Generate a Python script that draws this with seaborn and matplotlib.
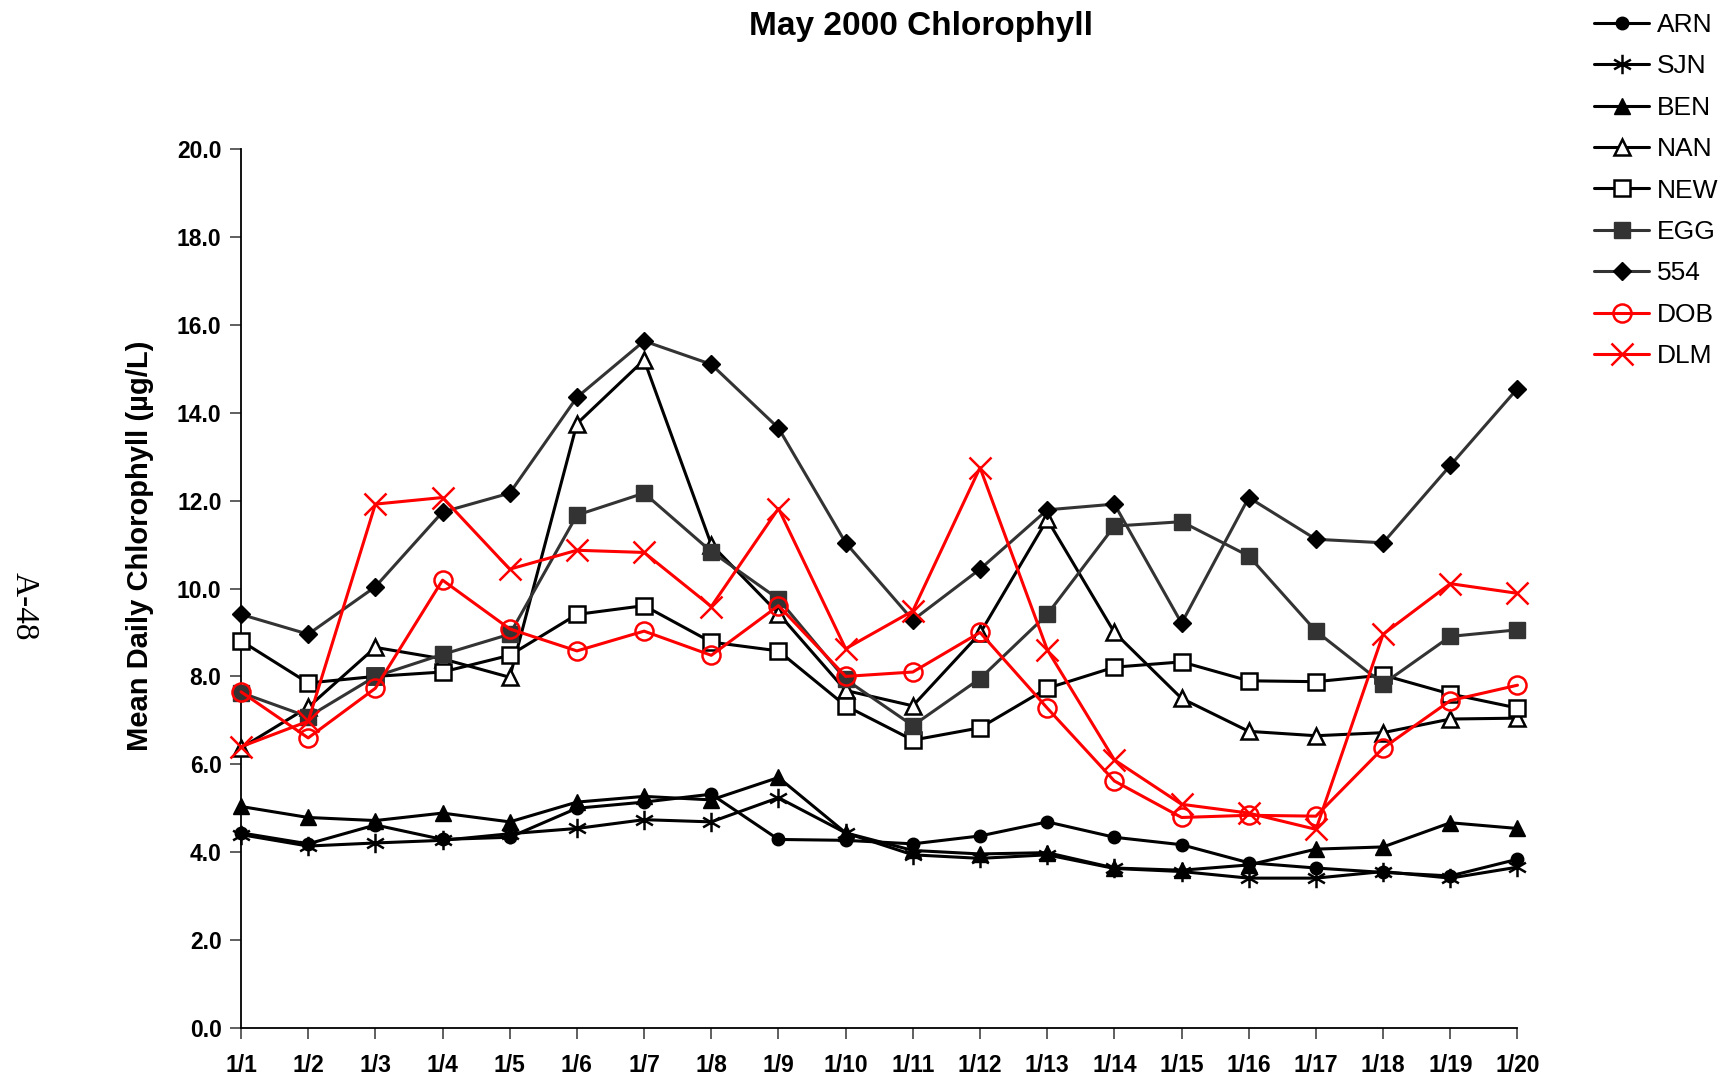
import numpy as np
import matplotlib
matplotlib.use("Agg")
import matplotlib.pyplot as plt
from matplotlib.path import Path
import seaborn as sns

# Daily dates (May 2000 chlorophyll record)
days = ["1/1", "1/2", "1/3", "1/4", "1/5", "1/6", "1/7", "1/8", "1/9", "1/10",
        "1/11", "1/12", "1/13", "1/14", "1/15", "1/16", "1/17", "1/18", "1/19", "1/20"]

# Mean daily chlorophyll per station (ug/L)
arn = [4.44, 4.19, 4.62, 4.29, 4.34, 5.00, 5.14, 5.32, 4.29, 4.27,
       4.19, 4.37, 4.69, 4.34, 4.17, 3.76, 3.64, 3.54, 3.46, 3.84]
sjn = [4.40, 4.14, 4.21, 4.27, 4.42, 4.54, 4.74, 4.69, 5.24, 4.44,
       3.94, 3.86, 3.94, 3.63, 3.56, 3.41, 3.41, 3.56, 3.41, 3.66]
ben = [5.04, 4.79, 4.72, 4.89, 4.69, 5.14, 5.27, 5.19, 5.70, 4.44,
       4.04, 3.96, 3.99, 3.64, 3.59, 3.71, 4.07, 4.12, 4.67, 4.54]
nan_ = [6.37, 7.30, 8.66, 8.40, 7.98, 13.75, 15.20, 11.00, 9.43, 7.68,
        7.33, 8.98, 11.57, 9.00, 7.50, 6.75, 6.65, 6.72, 7.03, 7.05]
new = [8.81, 7.85, 8.00, 8.10, 8.48, 9.41, 9.61, 8.78, 8.58, 7.33,
       6.55, 6.83, 7.73, 8.21, 8.33, 7.90, 7.88, 8.03, 7.60, 7.28]
egg = [7.63, 7.08, 8.00, 8.50, 8.96, 11.67, 12.17, 10.84, 9.76, 7.93,
       6.88, 7.95, 9.41, 11.42, 11.52, 10.74, 9.03, 7.83, 8.91, 9.06]
s554 = [9.41, 8.96, 10.04, 11.74, 12.17, 14.35, 15.63, 15.10, 13.65, 11.04,
        9.28, 10.44, 11.79, 11.92, 9.21, 12.07, 11.12, 11.04, 12.80, 14.55]
dob = [7.65, 6.60, 7.73, 10.19, 9.08, 8.58, 9.03, 8.48, 9.61, 8.00,
       8.10, 9.00, 7.28, 5.62, 4.79, 4.84, 4.82, 6.37, 7.45, 7.80]
dlm = [6.40, 6.98, 11.92, 12.07, 10.44, 10.87, 10.82, 9.59, 11.82, 8.63,
       9.49, 12.75, 8.61, 6.10, 5.09, 4.89, 4.52, 8.96, 10.11, 9.89]

y_ticks = [0, 2, 4, 6, 8, 10, 12, 14, 16, 18, 20]

# Six-armed asterisk marker (vertical stroke plus two diagonals)
c, s = np.cos(np.pi / 6), np.sin(np.pi / 6)
asterisk = Path(
    [(0, -1), (0, 1), (-c, -s), (c, s), (-c, s), (c, -s)],
    [Path.MOVETO, Path.LINETO, Path.MOVETO, Path.LINETO, Path.MOVETO, Path.LINETO],
)

RED = "#FF0000"
DARK = "#333333"
series = [
    ("ARN", arn, dict(color="black", marker="o", markersize=9,
                      markerfacecolor="black", markeredgecolor="black", markeredgewidth=1)),
    ("SJN", sjn, dict(color="black", marker=asterisk, markersize=14,
                      markerfacecolor="none", markeredgecolor="black", markeredgewidth=1.8)),
    ("BEN", ben, dict(color="black", marker="^", markersize=11,
                      markerfacecolor="black", markeredgecolor="black", markeredgewidth=1)),
    ("NAN", nan_, dict(color="black", marker="^", markersize=11,
                       markerfacecolor="white", markeredgecolor="black", markeredgewidth=1.8)),
    ("NEW", new, dict(color="black", marker="s", markersize=11,
                      markerfacecolor="white", markeredgecolor="black", markeredgewidth=1.8)),
    ("EGG", egg, dict(color=DARK, marker="s", markersize=11,
                      markerfacecolor=DARK, markeredgecolor=DARK, markeredgewidth=1)),
    ("554", s554, dict(color=DARK, marker="D", markersize=9,
                       markerfacecolor="black", markeredgecolor="black", markeredgewidth=1)),
    ("DOB", dob, dict(color=RED, marker="o", markersize=13,
                      markerfacecolor="none", markeredgecolor=RED, markeredgewidth=1.8)),
    ("DLM", dlm, dict(color=RED, marker="x", markersize=16,
                      markerfacecolor="none", markeredgecolor=RED, markeredgewidth=1.8)),
]

sns.set_style("ticks")
plt.rcParams["font.family"] = ["Liberation Sans", "DejaVu Sans"]
plt.rcParams.update({"text.color": "black", "axes.labelcolor": "black",
                     "xtick.color": "black", "ytick.color": "black"})

fig = plt.figure(figsize=(17.28, 10.8), dpi=100)
ax = fig.add_axes([241 / 1728, 1 - 1028 / 1080, (1517.5 - 241) / 1728, (1028 - 149) / 1080])

x = np.arange(len(days))
for name, vals, kw in series:
    sns.lineplot(x=x, y=vals, ax=ax, label=name, linewidth=2.2,
                 clip_on=False, zorder=3, **kw)

ax.set_xlim(0, len(days) - 1)
ax.set_ylim(0, 20)
ax.set_xticks(x)
ax.set_xticklabels(days, fontsize=16.5, fontweight="bold")
ax.set_yticks(y_ticks)
ax.set_yticklabels([f"{v:.1f}" for v in y_ticks], fontsize=16.5, fontweight="bold")
ax.tick_params(axis="both", direction="out", length=8, width=1.2)
ax.tick_params(axis="x", pad=11, color="#444444")
ax.tick_params(axis="y", pad=6, color="#444444")
sns.despine(ax=ax)
for sp in ("left", "bottom"):
    ax.spines[sp].set_linewidth(1.3)
    ax.spines[sp].set_color("black")
ax.set_xlabel("")
ax.set_ylabel("")

handles, labels = ax.get_legend_handles_labels()
ax.get_legend().remove()
fig.legend(handles, labels, loc="upper left",
           bbox_to_anchor=(1594 / 1728, 1 - 13 / 1080),
           frameon=False, fontsize=19, handlelength=2.1, handletextpad=0.3,
           labelspacing=0.66, borderpad=0, borderaxespad=0)

fig.text(921 / 1728, 1 - 27 / 1080, "May 2000 Chlorophyll",
         ha="center", va="center", fontsize=24, fontweight="bold")
fig.text(140 / 1728, 1 - 546 / 1080, "Mean Daily Chlorophyll (\u00b5g/L)",
         ha="center", va="center", rotation=90, fontsize=21, fontweight="bold")
fig.text(24 / 1728, 1 - 606 / 1080, "A-48", ha="center", va="center",
         rotation=-90, fontsize=24, family=["Liberation Serif", "DejaVu Serif"])

fig.savefig("out.png", dpi=100, facecolor="white")
